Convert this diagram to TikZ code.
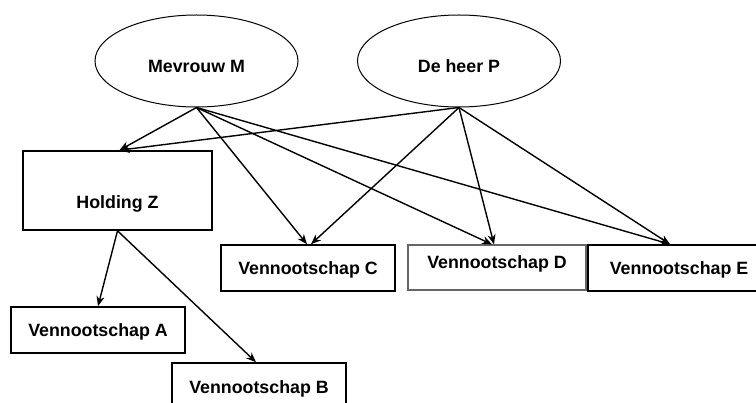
\documentclass[tikz,border=0pt]{standalone}
\usepackage{fontspec}
\setmainfont{Liberation Sans}
\usetikzlibrary{shapes.geometric,arrows.meta}
\begin{document}
\begin{tikzpicture}[x=1pt,y=-1pt,
  every node/.style={font=\fontsize{17.8}{20}\selectfont\bfseries},
  person/.style={ellipse, draw, line width=1pt, minimum width=203pt, minimum height=92pt, inner sep=0pt, text height=24pt, text depth=0pt},
  company/.style={rectangle, draw, line width=1.6pt, inner sep=0pt, text height=12.8pt, text depth=0pt},
  arrow/.style={-{Stealth[length=10pt,width=8pt]}, line width=1.4pt}]
\useasboundingbox (0,0) rectangle (756,403);
\node[person] (M) at (196.5,61) {Mevrouw M};
\node[person] (P) at (459,61) {De heer P};
\node[company, minimum width=189pt, minimum height=79pt, text height=36.5pt] (Z) at (117.5,190.5) {Holding Z};
\node[company, minimum width=174pt, minimum height=46pt] (A) at (98,330) {Vennootschap A};
\node[company, minimum width=174pt, minimum height=54pt, text depth=6pt] (B) at (259,390) {Vennootschap B};
\node[company, minimum width=174pt, minimum height=46pt] (C) at (308,268) {Vennootschap C};
\node[company, draw=black!60, line width=1.2pt, minimum width=178pt, minimum height=45pt, text depth=10pt] (D) at (497,267.5) {Vennootschap D};
\node[company, minimum width=182pt, minimum height=46pt, text height=14pt] (E) at (679,268) {Vennootschap E};
\draw[arrow] (M.south) -- ([xshift=2pt]Z.north);
\draw[arrow] (M.south) -- ([xshift=-1pt]C.north);
\draw[arrow] (M.south) -- ([xshift=-5pt]D.north);
\draw[arrow] (M.south) -- ([xshift=-9pt]E.north);
\draw[arrow] (P.south) -- ([xshift=2pt]Z.north);
\draw[arrow] (P.south) -- ([xshift=3pt]C.north);
\draw[arrow] (P.south) -- ([xshift=-3pt]D.north);
\draw[arrow] (P.south) -- ([xshift=-9pt]E.north);
\draw[arrow] (Z.south) -- (A.north);
\draw[arrow] (Z.south) -- ([xshift=-3pt]B.north);
\end{tikzpicture}
\end{document}
